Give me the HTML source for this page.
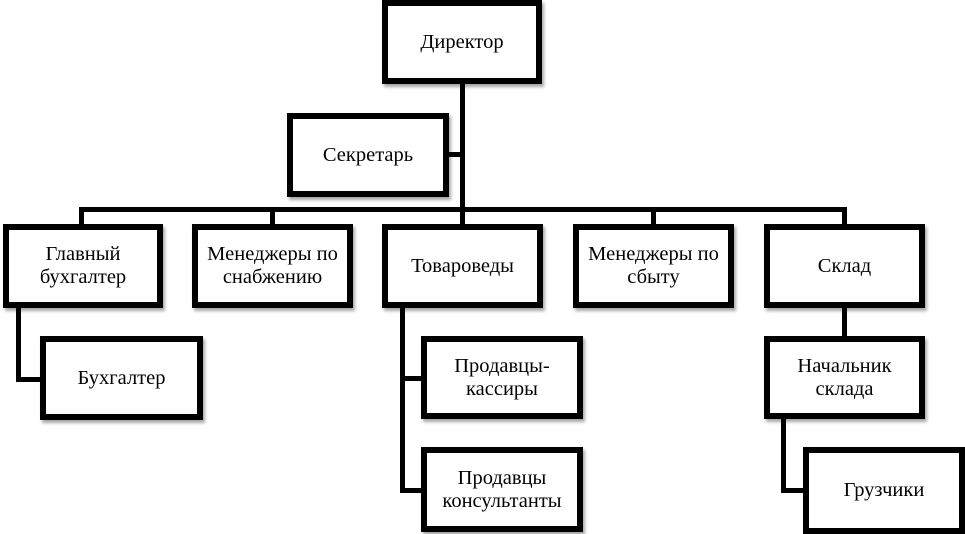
<!DOCTYPE html>
<html><head><meta charset="utf-8"><style>
body{margin:0;width:965px;height:532px;background:#fff;position:relative;overflow:hidden;font-family:"Liberation Serif",serif;}
.b{position:absolute;box-sizing:border-box;border:6px solid #000;background:#fff;display:flex;align-items:center;justify-content:center;text-align:center;font-size:20.5px;line-height:23px;color:#000;box-shadow:2px 3px 3px rgba(0,0,0,.35);}
.l{position:absolute;background:#000;}
</style></head><body>
<div class="l" style="left:460px;top:80px;width:5px;height:147px"></div>
<div class="l" style="left:446px;top:152px;width:16px;height:5px"></div>
<div class="l" style="left:79px;top:207px;width:768px;height:5px"></div>
<div class="l" style="left:79px;top:207px;width:5px;height:20px"></div>
<div class="l" style="left:270px;top:207px;width:5px;height:20px"></div>
<div class="l" style="left:651px;top:207px;width:5px;height:20px"></div>
<div class="l" style="left:842px;top:207px;width:5px;height:20px"></div>
<div class="l" style="left:16px;top:305px;width:5px;height:77px"></div>
<div class="l" style="left:16px;top:377px;width:26px;height:5px"></div>
<div class="l" style="left:400px;top:305px;width:5px;height:188px"></div>
<div class="l" style="left:400px;top:376px;width:23px;height:5px"></div>
<div class="l" style="left:400px;top:488px;width:23px;height:5px"></div>
<div class="l" style="left:842px;top:305px;width:5px;height:33px"></div>
<div class="l" style="left:781px;top:417px;width:5px;height:76px"></div>
<div class="l" style="left:781px;top:488px;width:24px;height:5px"></div>
<div class="b" style="left:382px;top:0;width:160px;height:84px">Директор</div>
<div class="b" style="left:287px;top:113px;width:162px;height:84px">Секретарь</div>
<div class="b" style="left:3px;top:224px;width:160px;height:84px">Главный<br>бухгалтер</div>
<div class="b" style="left:192px;top:224px;width:161px;height:84px">Менеджеры по<br>снабжению</div>
<div class="b" style="left:382px;top:224px;width:161px;height:84px">Товароведы</div>
<div class="b" style="left:573px;top:224px;width:161px;height:84px">Менеджеры по<br>сбыту</div>
<div class="b" style="left:764px;top:224px;width:161px;height:84px">Склад</div>
<div class="b" style="left:40px;top:336px;width:163px;height:84px">Бухгалтер</div>
<div class="b" style="left:421px;top:336px;width:162px;height:83px">Продавцы-<br>кассиры</div>
<div class="b" style="left:764px;top:336px;width:161px;height:83px">Начальник<br>склада</div>
<div class="b" style="left:421px;top:447px;width:162px;height:85px">Продавцы<br>консультанты</div>
<div class="b" style="left:803px;top:447px;width:162px;height:87px">Грузчики</div>
</body></html>
